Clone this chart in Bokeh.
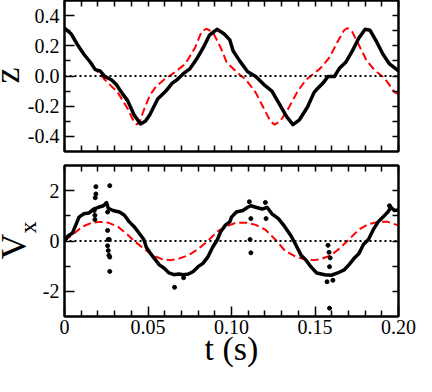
from bokeh.plotting import figure
from bokeh.layouts import column, row
from bokeh.models import Range1d, FixedTicker, LinearAxis, Span, Div
from bokeh.embed import file_html
from bokeh.resources import INLINE

# ---------------- data ----------------
t_z_meas = [0, 0.0039, 0.0078, 0.0116, 0.0155, 0.0184, 0.0213, 0.0242, 0.0281, 0.031,
            0.0349, 0.0378, 0.0417, 0.0455, 0.0484, 0.051, 0.0558, 0.0607, 0.0645, 0.0674,
            0.0713, 0.0752, 0.0791, 0.083, 0.0868, 0.0913, 0.0955, 0.099, 0.101, 0.1049,
            0.1097, 0.1145, 0.1194, 0.1242, 0.1281, 0.133, 0.1368, 0.1407, 0.1455, 0.1494,
            0.151, 0.1548, 0.1577, 0.1616, 0.1645, 0.1684, 0.1723, 0.1762, 0.18, 0.1829,
            0.1868, 0.1907, 0.1946, 0.2]
z_meas = [0.317, 0.28, 0.207, 0.144, 0.091, 0.042, 0.034, -0.004, -0.025, -0.057,
          -0.12, -0.163, -0.258, -0.317, -0.30, -0.258, -0.152, -0.1, -0.047, -0.025,
          0.017, 0.049, 0.112, 0.186, 0.27, 0.309, 0.28, 0.239, 0.165, 0.10,
          0.028, -0.004, -0.057, -0.1, -0.174, -0.269, -0.322, -0.29, -0.205, -0.11,
          -0.089, -0.047, -0.004, -0.004, 0.049, 0.091, 0.165, 0.25, 0.309, 0.303,
          0.229, 0.144, 0.08, 0.034]

t_z_model = [0, 0.004, 0.008, 0.012, 0.0165, 0.0242, 0.032, 0.0378, 0.0415, 0.0433,
             0.0455, 0.0471, 0.051, 0.0549, 0.0607, 0.0665, 0.0723, 0.0781, 0.082, 0.0849,
             0.0888, 0.0936, 0.0971, 0.1029, 0.1087, 0.1145, 0.1194, 0.1233, 0.1258, 0.1291,
             0.134, 0.1397, 0.1446, 0.149, 0.153, 0.1587, 0.1636, 0.1674, 0.1694, 0.1723,
             0.1762, 0.181, 0.1858, 0.1917, 0.1979, 0.2]
z_model = [0.317, 0.275, 0.205, 0.14, 0.07, -0.025, -0.11, -0.216, -0.30, -0.322,
           -0.29, -0.237, -0.13, -0.068, -0.015, 0.028, 0.08, 0.186, 0.292, 0.313,
           0.292, 0.186, 0.091, 0.028, -0.025, -0.11, -0.216, -0.30, -0.322, -0.30,
           -0.216, -0.1, -0.025, 0.013, 0.049, 0.123, 0.229, 0.303, 0.317, 0.292,
           0.207, 0.10, 0.038, -0.015, -0.11, -0.12]

t_v_meas = [0, 0.0019, 0.0048, 0.0068, 0.0087, 0.0116, 0.0145, 0.0174, 0.0203, 0.0233,
            0.0252, 0.0262, 0.029, 0.0329, 0.0359, 0.0388, 0.0417, 0.0446, 0.0475, 0.049,
            0.051, 0.0539, 0.0568, 0.0597, 0.0626, 0.0655, 0.0684, 0.0713, 0.0742, 0.0771,
            0.08, 0.0829, 0.0858, 0.0887, 0.0916, 0.0936, 0.0965, 0.099, 0.1, 0.1029,
            0.1068, 0.1097, 0.1116, 0.1145, 0.1184, 0.1213, 0.1242, 0.1281, 0.1319, 0.1358,
            0.1388, 0.1417, 0.1446, 0.1475, 0.151, 0.1558, 0.1597, 0.1636, 0.1674, 0.1703,
            0.1733, 0.1762, 0.1791, 0.182, 0.1849, 0.1878, 0.1907, 0.1936, 0.1955, 0.1975,
            0.2]
v_meas = [0, 0.19, 0.32, 0.64, 0.95, 1.08, 1.11, 1.27, 1.34, 1.4,
          1.53, 1.3, 1.21, 1.15, 1.02, 0.76, 0.57, 0.32, 0.06, -0.25,
          -0.45, -0.7, -0.95, -1.08, -1.27, -1.34, -1.31, -1.34, -1.31, -1.21,
          -1.02, -0.89, -0.64, -0.25, 0.06, 0.38, 0.64, 0.76, 0.95, 1.15,
          1.21, 1.34, 1.4, 1.34, 1.27, 1.34, 1.08, 0.89, 0.57, 0.19,
          -0.19, -0.57, -0.76, -1.02, -1.27, -1.34, -1.36, -1.27, -1.15, -0.95,
          -0.7, -0.51, -0.13, 0.06, 0.45, 0.76, 0.95, 1.15, 1.34, 1.21,
          1.23]

t_v_model = [0, 0.0048, 0.0107, 0.0165, 0.0213, 0.0262, 0.032, 0.0378, 0.0417, 0.0475,
             0.0529, 0.0587, 0.0636, 0.0684, 0.0742, 0.08, 0.0858, 0.0916, 0.0965, 0.1029,
             0.1087, 0.1145, 0.1203, 0.1262, 0.1319, 0.1378, 0.1436, 0.1494, 0.1529, 0.1597,
             0.1655, 0.1703, 0.1762, 0.182, 0.1878, 0.1936, 0.2]
v_model = [0, 0.25, 0.57, 0.73, 0.76, 0.73, 0.57, 0.25, 0, -0.3,
           -0.57, -0.73, -0.76, -0.7, -0.57, -0.32, 0, 0.38, 0.57, 0.73,
           0.73, 0.64, 0.45, 0.06, -0.38, -0.6, -0.73, -0.76, -0.73, -0.57,
           -0.25, 0.06, 0.45, 0.67, 0.76, 0.76, 0.62]

t_v_dots = [0.0188, 0.0188, 0.0184, 0.0178, 0.0182, 0.0182, 0.0271, 0.0258, 0.0258, 0.0262,
            0.0268, 0.0258, 0.0262, 0.0266, 0.0271, 0.0271, 0.0659, 0.0713, 0.1107, 0.1116,
            0.1111, 0.1116, 0.1203, 0.1207, 0.1578, 0.1584, 0.1591, 0.1587, 0.1572, 0.1607,
            0.1587, 0.1946]
v_dots = [2.16, 1.87, 1.72, 1.21, 1.02, 0.85, 2.2, 1.15, 0.42, 0.06,
          0.06, -0.19, -0.38, -0.57, -0.64, -1.21, -1.84, -1.46, 1.56, 0.89,
          0.06, -0.47, 1.53, 0.89, -0.17, -0.45, -0.67, -1.02, -1.62, -1.56,
          -2.67, 1.4]

x_ticks = [0, 0.05, 0.10, 0.15, 0.20]
x_tick_labels = ["0", "0.05", "0.10", "0.15", "0.20"]
x_minor = [0.01, 0.02, 0.03, 0.04, 0.06, 0.07, 0.08, 0.09, 0.11, 0.12, 0.13, 0.14,
           0.16, 0.17, 0.18, 0.19]
z_ticks = [-0.4, -0.2, 0.0, 0.2, 0.4]
z_tick_labels = ["-0.4", "-0.2", "0.0", "0.2", "0.4"]
z_minor = [-0.3, -0.1, 0.1, 0.3]
v_ticks = [-2, 0, 2]
v_tick_labels = ["-2", "0", "2"]
v_minor = [-1, 1]

# ---------------- styling / layout ----------------
FONT = "Liberation Serif"
TICK_FS = "20px"
FRAME_W = 334
FRAME_H = 151
FRAME_LEFT = 64        # distance from canvas left to frame left
LF1_W = 24             # strip holding the "z" label
LF2_W = 37             # strip holding the "Vx" label
P1_TOP, P1_BOT = 0, 7
P2_TOP, P2_BOT = 7, 59
P1_H = P1_TOP + FRAME_H + P1_BOT
P2_H = P2_TOP + FRAME_H + P2_BOT


def style_ticks(ax, tick_len_major, tick_len_minor):
    ax.axis_line_width = 2
    ax.axis_line_color = "black"
    ax.major_tick_in = tick_len_major
    ax.major_tick_out = 0
    ax.minor_tick_in = tick_len_minor
    ax.minor_tick_out = 0
    ax.major_tick_line_width = 1.5
    ax.minor_tick_line_width = 1.5
    ax.major_tick_line_color = "black"
    ax.minor_tick_line_color = "black"


def labelled_axis(ticks, minor, labels, standoff):
    ax = LinearAxis(ticker=FixedTicker(ticks=ticks, minor_ticks=minor))
    style_ticks(ax, 10, 6)
    ax.major_label_overrides = {tk: lb for tk, lb in zip(ticks, labels)}
    ax.major_label_text_font = FONT
    ax.major_label_text_font_size = TICK_FS
    ax.major_label_text_color = "black"
    ax.major_label_standoff = standoff
    return ax


def bare_axis(ticks, minor):
    # every tick mark drawn as a minor tick -> no tick labels produced
    ax = LinearAxis(ticker=FixedTicker(ticks=[], minor_ticks=sorted(ticks + minor)))
    style_ticks(ax, 6, 6)
    ax.major_label_standoff = 0
    return ax


def make_fig(yr, border_left, border_top, border_bottom):
    p = figure(frame_width=FRAME_W, frame_height=FRAME_H,
               x_range=Range1d(0, 0.2), y_range=yr,
               output_backend="svg", toolbar_location=None,
               x_axis_location=None, y_axis_location=None,
               min_border_left=border_left, min_border_right=18,
               min_border_top=border_top, min_border_bottom=border_bottom)
    p.xgrid.visible = False
    p.ygrid.visible = False
    p.outline_line_color = "black"
    p.outline_line_width = 2
    p.background_fill_color = "white"
    p.border_fill_color = "white"
    return p


def rotated_label(w, h, html, box_w, baseline_x, center_y):
    # text rotated 90 deg counter-clockwise, reading bottom to top
    # (font 36px, line-height 36px -> baseline sits ~30px below the box top)
    a = baseline_x - 30
    b = center_y + box_w / 2
    span = (f'<span style="display:inline-block;width:{box_w}px;text-align:center;'
            f"font-family:'{FONT}';font-size:36px;line-height:36px;white-space:nowrap;"
            f'color:black;transform-origin:0 0;'
            f'transform:translate({a}px,{b}px) rotate(-90deg);">{html}</span>')
    inner = f'<div style="width:{w}px;height:{h}px;overflow:hidden;">{span}</div>'
    return Div(text=inner, width=w, height=h, margin=0, styles={"overflow": "hidden"})


# ---------------- top panel: z ----------------
p1 = make_fig(Range1d(-0.5, 0.5), FRAME_LEFT - LF1_W, P1_TOP, P1_BOT)
p1.add_layout(bare_axis(x_ticks, x_minor), "below")
p1.add_layout(bare_axis(x_ticks, x_minor), "above")
p1.add_layout(labelled_axis(z_ticks, z_minor, z_tick_labels, 5), "left")
p1.add_layout(bare_axis(z_ticks, z_minor), "right")
p1.add_layout(Span(location=0, dimension="width", line_color="black",
                   line_width=2, line_dash="2 3"))
p1.line(t_z_model, z_model, line_color="#ff0000", line_width=2, line_dash="8 4")
p1.line(t_z_meas, z_meas, line_color="black", line_width=3.5, line_join="round")

lab1 = rotated_label(LF1_W, P1_H, "z", 60, 19, P1_TOP + FRAME_H / 2)

# ---------------- bottom panel: v_x ----------------
p2 = make_fig(Range1d(-3, 3), FRAME_LEFT - LF2_W, P2_TOP, P2_BOT)
bx = labelled_axis(x_ticks, x_minor, x_tick_labels, 3)
bx.axis_label = "t (s)"
bx.axis_label_text_font = FONT
bx.axis_label_text_font_size = "34px"
bx.axis_label_text_font_style = "normal"
bx.axis_label_text_color = "black"
bx.axis_label_standoff = -7
p2.add_layout(bx, "below")
p2.add_layout(bare_axis(x_ticks, x_minor), "above")
p2.add_layout(labelled_axis(v_ticks, v_minor, v_tick_labels, 5), "left")
p2.add_layout(bare_axis(v_ticks, v_minor), "right")
p2.add_layout(Span(location=0, dimension="width", line_color="black",
                   line_width=2, line_dash="2 3"))
p2.line(t_v_model, v_model, line_color="#ff0000", line_width=2, line_dash="8 4")
p2.line(t_v_meas, v_meas, line_color="black", line_width=3.5, line_join="round")
p2.scatter(t_v_dots, v_dots, size=4, color="black")

vx_html = 'V<span style="font-size:24px;vertical-align:-10px;">x</span>'
lab2 = rotated_label(LF2_W, P2_H, vx_html, 100, 26, P2_TOP + FRAME_H / 2)

layout = column(row(lab1, p1, margin=0), row(lab2, p2, margin=0), margin=0)
open("out.html", "w").write(file_html(layout, INLINE))
